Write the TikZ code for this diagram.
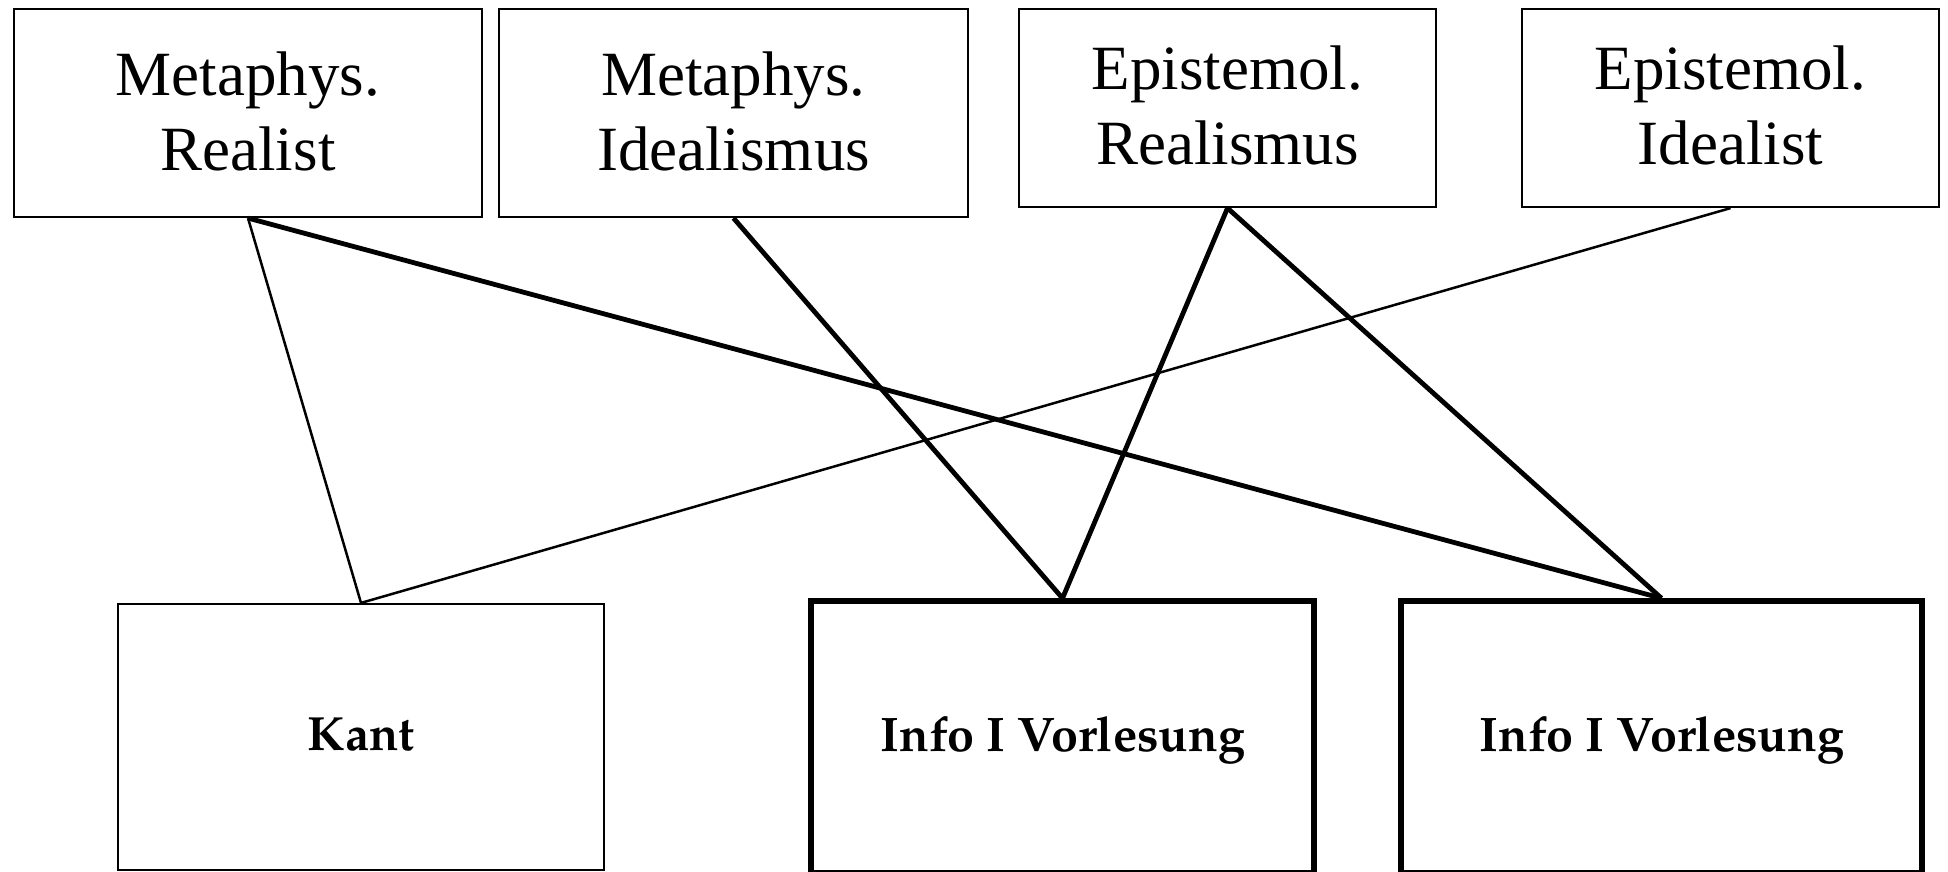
\documentclass[tikz,border=0pt]{standalone}
\usepackage{fontspec}
\setmainfont{Liberation Serif}
\newfontfamily\palbold{texgyrepagella-bold.otf}
\begin{document}
\begin{tikzpicture}[x=1pt,y=-1pt,
  topbox/.style={draw=black,line width=2.2pt,rectangle,inner sep=0pt,align=center,
    font=\fontsize{63}{75}\selectfont},
  kantbox/.style={draw=black,line width=2.2pt,rectangle,inner sep=0pt,
    font=\palbold\fontsize{48}{56}\selectfont},
  infobox/.style={draw=black,line width=5.5pt,rectangle,inner sep=0pt,
    font=\palbold\fontsize{48.5}{56}\selectfont},
  thinlink/.style={draw=black,line width=2.5pt},
  thicklink/.style={draw=black,line width=4.8pt}]
\useasboundingbox (0,0) rectangle (1948,871);
\fill[white] (0,0) rectangle (1948,871);
\node[topbox,minimum width=468pt,minimum height=208pt,text depth=0pt] (mr) at (248,113) {};
\node[font=\fontsize{63}{75}\selectfont,align=center,inner sep=0pt] (mrt) at (248,111) {Metaphys.\\Realist};
\node[topbox,minimum width=469pt,minimum height=208pt] (mi) at (733.5,113) {};
\node[font=\fontsize{63}{75}\selectfont,align=center,inner sep=0pt] (mit) at (733.5,111) {Metaphys.\\Idealismus};
\node[topbox,minimum width=417pt,minimum height=198pt] (er) at (1227.5,108) {};
\node[font=\fontsize{63}{75}\selectfont,align=center,inner sep=0pt] (ert) at (1227.5,105.5) {Epistemol.\\Realismus};
\node[topbox,minimum width=417pt,minimum height=198pt] (ei) at (1730.5,108) {};
\node[font=\fontsize{63}{75}\selectfont,align=center,inner sep=0pt] (eit) at (1730.5,105.5) {Epistemol.\\Idealist};
\node[kantbox,minimum width=486pt,minimum height=266pt] (kant) at (361,737) {};
\node[font=\palbold\fontsize{48}{56}\selectfont,inner sep=0pt] (kantt) at (361,735) {Kant};
\node[infobox,minimum width=503pt,minimum height=272pt] (info1) at (1062.5,737) {};
\node[font=\palbold\fontsize{48.5}{56}\selectfont,inner sep=0pt] (info1t) at (1063,740) {Info I Vorlesung};
\node[infobox,minimum width=521pt,minimum height=272pt] (info2) at (1661.5,737) {};
\node[font=\palbold\fontsize{48.5}{56}\selectfont,inner sep=0pt] (info2t) at (1662,740) {Info I Vorlesung};
\draw[thinlink] (mr.south) -- (kant.north);
\draw[thinlink] (ei.south) -- (kant.north);
\draw[thicklink] (mr.south) -- (info2.north);
\draw[thicklink] (mi.south) -- (info1.north);
\draw[thicklink] (er.south) -- (info1.north);
\draw[thicklink] (er.south) -- (info2.north);
\end{tikzpicture}
\end{document}
